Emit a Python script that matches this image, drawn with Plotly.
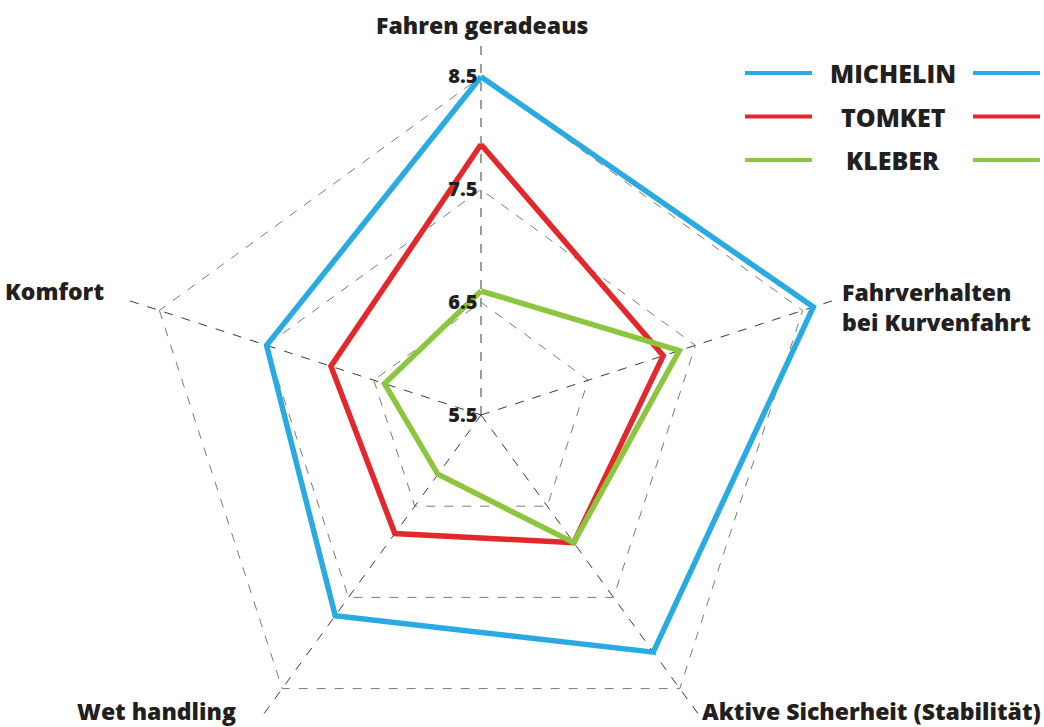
import plotly.graph_objects as go

categories = ["Fahren geradeaus", "Fahrverhalten<br>bei Kurvenfahrt",
              "Aktive Sicherheit (Stabilität)", "Wet handling", "Komfort"]
series_names = ["MICHELIN", "TOMKET", "KLEBER"]
michelin = [8.5, 8.6, 8.1, 7.7, 7.5]
tomket = [7.9, 7.2, 6.9, 6.8, 6.9]
kleber = [6.6, 7.35, 6.9, 6.15, 6.4]
radial_ticks = [5.5, 6.5, 7.5, 8.5]
radial_labels = ["5.5", "6.5", "7.5", "8.5"]

colors = ["#29ABE2", "#E2282B", "#8CC63F"]
series = [michelin, tomket, kleber]

W, H = 1044, 830
FONT = "Open Sans"
TXT = "#231F20"


def py(ypx):
    return 1 - ypx / H


fig = go.Figure()
for name, vals, col in zip(series_names, series, colors):
    fig.add_trace(go.Scatterpolar(
        r=vals + vals[:1], theta=categories + categories[:1],
        mode="lines", name=name, showlegend=False,
        line=dict(color=col, width=5.5),
    ))

# legend drawn as lines on both sides of the name
shapes, annos = [], []
for i, (name, col) in enumerate(zip(series_names, colors)):
    yf = py(73 + i * 43.5)
    for x0, x1 in [(745, 812), (973, 1040)]:
        shapes.append(dict(type="line", xref="paper", yref="paper",
                           x0=x0 / W, x1=x1 / W, y0=yf, y1=yf,
                           line=dict(color=col, width=4)))
    annos.append(dict(xref="paper", yref="paper", x=893 / W, y=yf,
                      text=name, showarrow=False, xanchor="center", yanchor="middle",
                      font=dict(family=FONT, size=25, color=TXT, weight=800)))

# category labels placed around the chart
label_pos = [
    dict(x=482, y=25, xanchor="center", align="center"),
    dict(x=840, y=307, xanchor="left", align="left"),
    dict(x=700, y=711, xanchor="left", align="left"),
    dict(x=238, y=711, xanchor="right", align="right"),
    dict(x=106, y=291, xanchor="right", align="right"),
]
for cat, p in zip(categories, label_pos):
    annos.append(dict(xref="paper", yref="paper", x=p["x"] / W, y=py(p["y"]),
                      text=cat, showarrow=False, xanchor=p["xanchor"], yanchor="middle",
                      align=p["align"],
                      font=dict(family=FONT, size=23, color=TXT, weight=800)))

fig.update_layout(
    width=W, height=H,
    margin=dict(l=0, r=0, t=0, b=0),
    paper_bgcolor="white",
    shapes=shapes, annotations=annos,
    polar=dict(
        domain=dict(x=[(481 - 372) / W, (481 + 372) / W], y=[0, 1]),
        bgcolor="white",
        gridshape="linear",
        radialaxis=dict(range=[5.5, 8.8], tickvals=radial_ticks, ticktext=radial_labels,
                        angle=90, tickangle=90, side="counterclockwise", showline=False,
                        ticks="", gridcolor="#7a7a7a", griddash="dash", gridwidth=1,
                        tickfont=dict(family=FONT, size=20, color=TXT, weight=800)),
        angularaxis=dict(direction="clockwise", rotation=90, showline=False, ticks="",
                         showticklabels=False,
                         gridcolor="#3a3a3a", griddash="dash", gridwidth=1),
    ),
)

fig.write_html("out.html", config={"displayModeBar": False},
               post_script="document.body.style.margin='0';document.body.style.overflow='hidden';")
